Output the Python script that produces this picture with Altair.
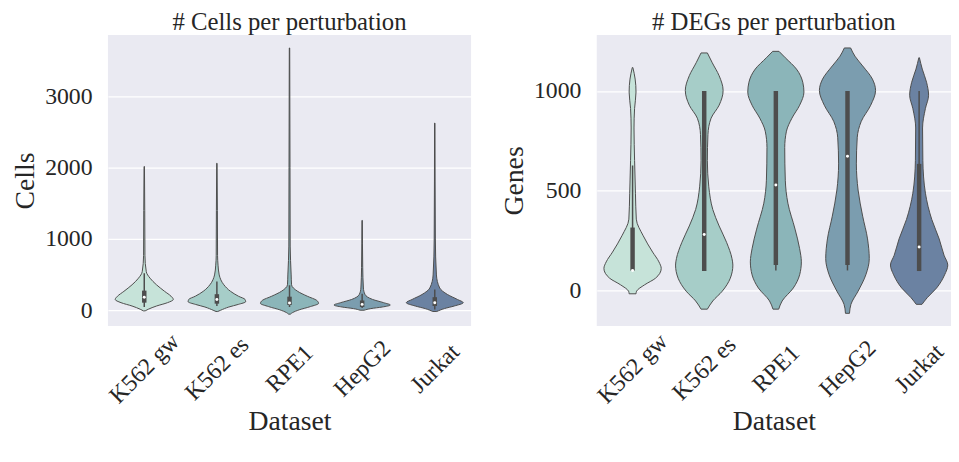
import altair as alt
import pandas as pd

DATASETS = ["K562 gw", "K562 es", "RPE1", "HepG2", "Jurkat"]
COLORS = ["#c6e3d9", "#a6cdc8", "#8bb5b9", "#7b9daf", "#6b82a2"]

# ---- violin outlines: value, relative half-width (1 = widest) ----
CELLS_K562GW_Y = [-9, 14, 59, 106, 151, 197, 265, 357, 449, 540, 770, 1400, 2016]
CELLS_K562GW_W = [0.03, 0.14, 0.42, 0.8, 1.0, 0.92, 0.7, 0.42, 0.2, 0.07, 0.023, 0.017, 0.007]
CELLS_K562ES_Y = [-18, 0, 45, 82, 119, 151, 197, 265, 357, 495, 632, 770, 1400, 2061]
CELLS_K562ES_W = [0.03, 0.13, 0.41, 0.74, 0.99, 0.97, 0.74, 0.47, 0.24, 0.08, 0.04, 0.023, 0.017, 0.007]
CELLS_RPE1_Y = [-55, -32, 5, 51, 96, 137, 197, 265, 357, 495, 900, 2000, 3679]
CELLS_RPE1_W = [0.03, 0.11, 0.33, 0.72, 1.0, 0.94, 0.61, 0.28, 0.07, 0.057, 0.023, 0.017, 0.007]
CELLS_HEPG2_Y = [0, 23, 45, 73, 106, 151, 220, 312, 600, 1260]
CELLS_HEPG2_W = [0.07, 0.3, 0.69, 0.97, 0.74, 0.36, 0.1, 0.043, 0.02, 0.007]
CELLS_JURKAT_Y = [-18, 23, 59, 106, 151, 220, 312, 495, 1000, 2625]
CELLS_JURKAT_W = [0.07, 0.33, 0.67, 0.98, 0.78, 0.44, 0.17, 0.057, 0.02, 0.007]

GENES_K562GW_Y = [-16, -3, 29, 62, 111, 144, 193, 275, 358, 488, 652, 815, 913, 995, 1060, 1118]
GENES_K562GW_W = [0.12, 0.14, 0.42, 0.8, 1.0, 0.92, 0.7, 0.37, 0.13, 0.1, 0.07, 0.05, 0.07, 0.12, 0.09, 0.01]
GENES_K562ES_Y = [-93, -52, -3, 62, 128, 160, 242, 324, 406, 520, 651, 782, 864, 929, 1003, 1077, 1142, 1191]
GENES_K562ES_W = [0.11, 0.3, 0.63, 0.91, 1.0, 0.97, 0.78, 0.52, 0.3, 0.16, 0.11, 0.13, 0.24, 0.52, 0.66, 0.52, 0.28, 0.11]
GENES_RPE1_Y = [-93, -52, 13, 79, 144, 210, 308, 438, 553, 717, 799, 864, 929, 995, 1044, 1110, 1167, 1199]
GENES_RPE1_W = [0.1, 0.22, 0.61, 0.83, 0.89, 0.83, 0.67, 0.42, 0.33, 0.31, 0.37, 0.56, 0.83, 0.98, 0.94, 0.72, 0.33, 0.11]
GENES_HEPG2_Y = [-114, -69, -3, 79, 160, 259, 373, 504, 635, 766, 848, 929, 1003, 1060, 1126, 1175, 1216]
GENES_HEPG2_W = [0.07, 0.12, 0.37, 0.64, 0.76, 0.7, 0.53, 0.37, 0.31, 0.34, 0.48, 0.81, 0.98, 0.87, 0.53, 0.26, 0.11]
GENES_JURKAT_Y = [-69, -36, 13, 79, 128, 177, 259, 357, 488, 651, 815, 913, 979, 1044, 1110, 1167]
GENES_JURKAT_W = [0.1, 0.28, 0.61, 0.89, 1.0, 0.87, 0.7, 0.44, 0.22, 0.13, 0.12, 0.22, 0.33, 0.26, 0.11, 0.01]

# ---- inner box statistics: whisker low, Q1, median, Q3, whisker high ----
CELLS_WLO = [45, 59, 45, 30, 10]
CELLS_Q1 = [106, 92, 73, 45, 59]
CELLS_MED = [183, 151, 100, 82, 106]
CELLS_Q3 = [275, 225, 190, 137, 183]
CELLS_WHI = [520, 403, 350, 230, 290]

GENES_WLO = [100, 98, 101, 101, 98]
GENES_Q1 = [100, 98, 128, 128, 98]
GENES_MED = [101, 281, 529, 673, 218]
GENES_Q3 = [316, 1000, 1000, 1000, 635]
GENES_WHI = [627, 1000, 1000, 1000, 1000]

CELLS_TICKS = [0, 1000, 2000, 3000]
GENES_TICKS = [0, 500, 1000]

FONT = "Liberation Serif"
TXT = "#262626"
LINE = "#4d4d4d"
HALF = 0.4  # seaborn width 0.8
PLOT_H = 294


def violin_frame(profiles):
    rows = []
    for i, (name, (ys, ws)) in enumerate(zip(DATASETS, profiles)):
        for y, w in zip(ys, ws):
            rows.append(dict(dataset=name, value=y, lo=i - HALF * w, hi=i + HALF * w))
    return pd.DataFrame(rows)


def box_frame(wlo, q1, med, q3, whi):
    return pd.DataFrame(dict(dataset=DATASETS, pos=list(range(len(DATASETS))),
                             wlo=wlo, q1=q1, med=med, q3=q3, whi=whi))


label_expr = "[" + ",".join("'%s'" % d for d in DATASETS) + "][datum.value]"


def panel(vdf, bdf, xdomain, width, ydomain, yticks, ytitle, title):
    xs = alt.Scale(domain=xdomain, nice=False, zero=False)
    ys = alt.Scale(domain=ydomain, nice=False, zero=False)
    xaxis = alt.Axis(values=[0, 1, 2, 3, 4], labelExpr=label_expr, grid=False,
                     labelAngle=-45, labelAlign="center", labelBaseline="middle",
                     labelPadding=43, labelOverlap=False, title="Dataset", titlePadding=0)
    yaxis = alt.Axis(values=yticks, format="d", grid=True, title=ytitle, labelPadding=16,
                     titlePadding=5)
    area = alt.Chart(vdf).mark_area(orient="horizontal", interpolate="monotone", clip=True,
                                    stroke=LINE, strokeWidth=1, opacity=1).encode(
        y=alt.Y("value:Q", scale=ys, axis=yaxis),
        x=alt.X("lo:Q", scale=xs, axis=xaxis, stack=None),
        x2="hi:Q",
        color=alt.Color("dataset:N", scale=alt.Scale(domain=DATASETS, range=COLORS), legend=None),
    )
    base = alt.Chart(bdf)
    whisk = base.mark_rule(color=LINE, strokeWidth=1.5).encode(
        x=alt.X("pos:Q", scale=xs), y=alt.Y("wlo:Q", scale=ys), y2="whi:Q")
    box = base.mark_rule(color=LINE, strokeWidth=4.5).encode(
        x=alt.X("pos:Q", scale=xs), y=alt.Y("q1:Q", scale=ys), y2="q3:Q")
    med = base.mark_circle(color="white", size=9, opacity=1).encode(
        x=alt.X("pos:Q", scale=xs), y=alt.Y("med:Q", scale=ys))
    return alt.layer(area, whisk, box, med).properties(
        width=width, height=PLOT_H,
        title=alt.TitleParams(title, font=FONT, fontSize=25, fontWeight="normal",
                              color=TXT, offset=0))


left = panel(violin_frame([(CELLS_K562GW_Y, CELLS_K562GW_W), (CELLS_K562ES_Y, CELLS_K562ES_W),
                           (CELLS_RPE1_Y, CELLS_RPE1_W), (CELLS_HEPG2_Y, CELLS_HEPG2_W),
                           (CELLS_JURKAT_Y, CELLS_JURKAT_W)]),
             box_frame(CELLS_WLO, CELLS_Q1, CELLS_MED, CELLS_Q3, CELLS_WHI),
             [-0.5, 4.5], 367, [-220, 3861], CELLS_TICKS, "Cells", "# Cells per perturbation")

# the reference cuts the right panel at the window edge
right = panel(violin_frame([(GENES_K562GW_Y, GENES_K562GW_W), (GENES_K562ES_Y, GENES_K562ES_W),
                            (GENES_RPE1_Y, GENES_RPE1_W), (GENES_HEPG2_Y, GENES_HEPG2_W),
                            (GENES_JURKAT_Y, GENES_JURKAT_W)]),
              box_frame(GENES_WLO, GENES_Q1, GENES_MED, GENES_Q3, GENES_WHI),
              [-0.5, 4.445], 358, [-177, 1281], GENES_TICKS, "Genes", "# DEGs per perturbation")

chart = alt.hconcat(left, right, spacing=30).properties(
    padding={"left": 4, "top": 0, "right": 0, "bottom": 0}
).configure_axis(
    labelFont=FONT, labelFontSize=24, labelColor=TXT,
    titleFont=FONT, titleFontSize=28, titleFontWeight="normal", titleColor=TXT,
    domain=False, ticks=False, tickSize=0, gridColor="white", gridWidth=1.3,
).configure_view(fill="#eaeaf2", stroke=None).configure_concat(spacing=30)

chart.save("out.html", embed_options={"renderer": "svg", "actions": False})
